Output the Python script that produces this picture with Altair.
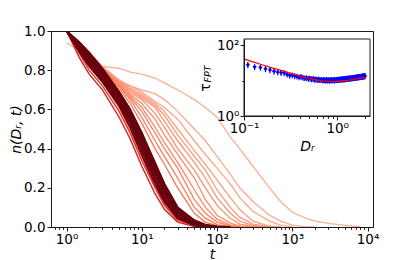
import altair as alt
import pandas as pd

# ---------------- main panel: n(D_r, t) curves ----------------
T_GRID = [1, 1.5, 2, 3, 5, 7, 10, 15, 20, 30, 50, 70, 100, 150, 200, 300,
          500, 700, 1000, 1500, 2000, 3000, 5000, 8000]

# slow (light) curves, lightest first
LIGHT_CURVES = [
    [0.94, 0.90, 0.86, 0.82, 0.81, 0.79, 0.78, 0.76, 0.735, 0.70, 0.65, 0.61, 0.56, 0.46, 0.40, 0.31, 0.20, 0.13, 0.075, 0.045, 0.03, 0.018, 0.008, 0.002],
    [1.0, 0.94, 0.89, 0.82, 0.75, 0.72, 0.70, 0.68, 0.65, 0.59, 0.50, 0.44, 0.36, 0.27, 0.20, 0.13, 0.06, 0.03, 0.01, 0.002, 0.0],
    [1.0, 0.94, 0.89, 0.81, 0.74, 0.72, 0.69, 0.64, 0.61, 0.55, 0.44, 0.37, 0.30, 0.22, 0.15, 0.08, 0.03, 0.01, 0.0],
    [1.0, 0.94, 0.89, 0.81, 0.75, 0.71, 0.68, 0.63, 0.59, 0.50, 0.39, 0.32, 0.24, 0.15, 0.09, 0.03, 0.005, 0.0],
    [1.0, 0.94, 0.89, 0.81, 0.74, 0.70, 0.67, 0.62, 0.57, 0.47, 0.36, 0.29, 0.19, 0.10, 0.05, 0.015, 0.002, 0.0],
    [1.0, 0.94, 0.89, 0.81, 0.74, 0.70, 0.66, 0.61, 0.54, 0.44, 0.33, 0.25, 0.15, 0.07, 0.03, 0.008, 0.0],
    [1.0, 0.94, 0.89, 0.81, 0.74, 0.69, 0.65, 0.58, 0.51, 0.40, 0.29, 0.20, 0.11, 0.045, 0.015, 0.003, 0.0],
    [1.0, 0.94, 0.89, 0.81, 0.73, 0.68, 0.63, 0.55, 0.47, 0.37, 0.25, 0.14, 0.06, 0.02, 0.006, 0.0],
    [1.0, 0.94, 0.89, 0.81, 0.73, 0.67, 0.61, 0.51, 0.43, 0.33, 0.19, 0.10, 0.04, 0.01, 0.002, 0.0],
    [1.0, 0.94, 0.89, 0.80, 0.72, 0.66, 0.59, 0.48, 0.40, 0.30, 0.14, 0.07, 0.025, 0.006, 0.0],
    [1.0, 0.94, 0.89, 0.80, 0.72, 0.65, 0.56, 0.44, 0.36, 0.25, 0.10, 0.045, 0.012, 0.002, 0.0],
    [1.0, 0.94, 0.88, 0.79, 0.71, 0.63, 0.53, 0.40, 0.32, 0.20, 0.07, 0.025, 0.006, 0.0],
]

# fastest (bright red) curves on the lower edge of the bundle
RED_CURVES = [
    [1.0, 0.89, 0.82, 0.74, 0.61, 0.50, 0.36, 0.21, 0.12, 0.04, 0.008, 0.002, 0.0],
    [1.0, 0.88, 0.80, 0.72, 0.59, 0.48, 0.34, 0.20, 0.11, 0.035, 0.006, 0.001, 0.0],
    [1.0, 0.86, 0.78, 0.70, 0.56, 0.45, 0.31, 0.17, 0.09, 0.025, 0.003, 0.0],
]

# dense dark bundle
DARK_CURVES = [
    [1.0, 0.94, 0.89, 0.81, 0.69, 0.60, 0.48, 0.33, 0.22, 0.10, 0.035, 0.012, 0.003, 0.0],
    [1.0, 0.94, 0.88, 0.80, 0.69, 0.60, 0.48, 0.32, 0.22, 0.10, 0.03, 0.01, 0.002, 0.0],
    [1.0, 0.93, 0.88, 0.80, 0.68, 0.59, 0.47, 0.31, 0.21, 0.09, 0.025, 0.008, 0.001, 0.0],
    [1.0, 0.93, 0.87, 0.79, 0.67, 0.58, 0.46, 0.30, 0.20, 0.085, 0.022, 0.007, 0.0],
    [1.0, 0.92, 0.87, 0.79, 0.67, 0.57, 0.45, 0.29, 0.19, 0.08, 0.02, 0.006, 0.0],
    [1.0, 0.92, 0.86, 0.78, 0.66, 0.56, 0.43, 0.28, 0.18, 0.07, 0.016, 0.005, 0.0],
    [1.0, 0.91, 0.85, 0.77, 0.65, 0.55, 0.42, 0.27, 0.17, 0.065, 0.014, 0.004, 0.0],
    [1.0, 0.91, 0.84, 0.76, 0.64, 0.54, 0.41, 0.25, 0.155, 0.055, 0.012, 0.003, 0.0],
    [1.0, 0.90, 0.83, 0.75, 0.63, 0.53, 0.39, 0.24, 0.14, 0.05, 0.01, 0.002, 0.0],
    [1.0, 0.89, 0.82, 0.74, 0.62, 0.51, 0.37, 0.22, 0.13, 0.045, 0.008, 0.001, 0.0],
]

T_DOMAIN = [0.622, 11830]
N_DOMAIN = [0.0, 1.0]

# ---------------- inset: tau_FPT vs D_r ----------------
DR_POINTS = [round(0.11 + 0.02 * k, 2) for k in range(95)]
TAU_POINTS = [
    28.0, 24.5, 23.5, 21.5, 20.0, 18.5, 17.5, 16.8, 16.5, 15.0,
    14.0, 14.3, 13.5, 13.2, 12.6, 12.9, 12.2, 11.8, 12.0, 11.4,
    11.6, 11.1, 11.3, 10.8, 11.0, 10.6, 10.9, 10.5, 10.7, 10.3,
    10.6, 10.4, 10.2, 10.6, 10.3, 10.5, 10.1, 10.4, 10.6, 10.2,
    10.5, 10.3, 10.7, 10.4, 10.6, 10.8, 10.5, 10.9, 10.7, 11.0,
    10.8, 11.1, 10.9, 11.2, 11.0, 11.3, 11.1, 11.5, 11.2, 11.6,
    11.4, 11.7, 11.5, 11.8, 11.6, 12.0, 11.7, 12.1, 11.9, 12.2,
    12.0, 12.3, 12.1, 12.4, 12.2, 12.6, 12.3, 12.7, 12.5, 12.8,
    12.6, 12.9, 12.7, 13.0, 12.8, 13.2, 12.9, 13.3, 13.1, 13.4,
    13.2, 13.6, 13.3, 13.7, 13.5,
]
TAU_REL_ERR = 0.19
DR_THEORY = [0.1, 0.12, 0.15, 0.2, 0.25, 0.3, 0.4, 0.5, 0.6, 0.7, 0.8, 0.9, 1.0, 1.2, 1.5, 1.8, 2.0, 2.05]
TAU_THEORY = [41, 35, 29, 23, 19.5, 16.8, 13.2, 11.4, 10.4, 9.8, 9.5, 9.4, 9.5, 9.9, 10.8, 11.7, 12.2, 12.4]
DR_DOMAIN = [0.1, 2.25]
TAU_DOMAIN = [1, 150]

FONT = "DejaVu Sans"
W, H = 322, 196


def curves_frame(curves, start):
    rows = []
    for i, c in enumerate(curves):
        for t, n in zip(T_GRID, c):
            rows.append({"k": start + i, "t": t, "n": n})
    return pd.DataFrame(rows)


df_light = curves_frame(LIGHT_CURVES, 0)
df_red = curves_frame(RED_CURVES, 12)
df_dark = curves_frame(DARK_CURVES, 15)

major_t = "datum.value==1||datum.value==10||datum.value==100||datum.value==1000||datum.value==10000"
t_ticks = [0.7, 0.8, 0.9] + [m * 10 ** e for e in range(4) for m in range(1, 10)] + [10000]
x_main = alt.X(
    "t:Q",
    scale=alt.Scale(type="log", domain=T_DOMAIN, nice=False),
    axis=alt.Axis(
        values=t_ticks, title="t", titleFontStyle="italic", titleFontWeight="normal",
        titleFontSize=14, titleY=31, titleBaseline="alphabetic",
        labelExpr="datum.value==1?'10⁰':datum.value==10?'10¹':datum.value==100?'10²':datum.value==1000?'10³':datum.value==10000?'10⁴':''",
        tickSize={"condition": {"test": major_t, "value": 4}, "value": 2.3},
        labelPadding=1, labelOverlap=False, labelFlush=False, grid=False, zindex=1,
    ),
)
y_main = alt.Y(
    "n:Q",
    scale=alt.Scale(domain=N_DOMAIN, nice=False),
    axis=alt.Axis(
        values=[0, 0.2, 0.4, 0.6, 0.8, 1.0], format=".1f", title="n(Dᵣ, t)",
        titleFontStyle="italic", titleFontWeight="normal", titleFontSize=14,
        titleAngle=270, titleX=-35, titleY=98, titleAlign="center", titleBaseline="middle",
        tickSize=4, labelPadding=2, grid=False, zindex=1, labelFlush=False,
    ),
)
color_scale = alt.Scale(
    domain=[0, 2, 11, 12, 14, 15, 24],
    range=["#fcb094", "#fca487", "#fb7656", "#f0402e", "#d21f20", "#67000d", "#67000d"],
)


def curve_layer(df, width):
    return alt.Chart(df).mark_line(strokeWidth=width, clip=True).encode(
        x=x_main, y=y_main,
        color=alt.Color("k:Q", scale=color_scale, legend=None),
        detail="k:N",
    )


main = alt.layer(
    curve_layer(df_light, 1.3),
    curve_layer(df_red, 1.4),
    curve_layer(df_dark, 1.8),
)

# ---------------- inset layers ----------------
df_pts = pd.DataFrame({"dr": DR_POINTS, "tau": TAU_POINTS})
df_pts["lo"] = df_pts["tau"] * (1 - TAU_REL_ERR)
df_pts["hi"] = df_pts["tau"] * (1 + TAU_REL_ERR)
df_th = pd.DataFrame({"dr": DR_THEORY, "tau": TAU_THEORY})
df_box = pd.DataFrame({"dr": [DR_DOMAIN[0]], "dr2": [DR_DOMAIN[1]],
                       "tau": [TAU_DOMAIN[0]], "tau2": [TAU_DOMAIN[1]]})

inset_x_scale = alt.Scale(type="log", domain=DR_DOMAIN, range=[193, 319], nice=False)
inset_y_scale = alt.Scale(type="log", domain=TAU_DOMAIN, range=[85, 8], nice=False)
inset_x_axis = alt.Axis(
    orient="bottom", offset=-111,
    values=[0.1, 0.2, 0.3, 0.4, 0.5, 0.6, 0.7, 0.8, 0.9, 1, 2],
    labelExpr="datum.value==0.1?'10⁻¹':datum.value==1?'10⁰':''",
    tickSize={"condition": {"test": "datum.value==0.1||datum.value==1", "value": 4}, "value": 2.3},
    title="Dᵣ", titleFontStyle="italic", titleFontWeight="normal", titleFontSize=14,
    titleY=34, titleBaseline="alphabetic",
    labelPadding=1, labelOverlap=False, labelFlush=False, grid=False, zindex=2,
)
inset_y_axis = alt.Axis(
    orient="left", offset=-193,
    values=[1, 10, 100],
    labelExpr="datum.value==1?'10⁰':datum.value==100?'10²':''",
    tickSize={"condition": {"test": "datum.value==1||datum.value==100", "value": 4}, "value": 2.3},
    title="τ", titleFontWeight="normal", titleFontSize=14, titleAngle=270,
    titleX=-39, titleY=56, titleAlign="center", titleBaseline="middle",
    labelPadding=1, labelOverlap=False, labelFlush=False, grid=False, zindex=2,
)
ix = alt.X("dr:Q", scale=inset_x_scale, axis=inset_x_axis)
iy = alt.Y("tau:Q", scale=inset_y_scale, axis=inset_y_axis)

box = alt.Chart(df_box).mark_rect(fill="white", stroke="#1a1a1a", strokeWidth=1).encode(
    x=ix, x2="dr2:Q", y=iy, y2="tau2:Q")
errs = alt.Chart(df_pts).mark_rule(color="blue", strokeWidth=1.2).encode(
    x=ix, y=alt.Y("lo:Q", scale=inset_y_scale, axis=inset_y_axis), y2="hi:Q")
pts = alt.Chart(df_pts).mark_point(shape="diamond", filled=True, color="blue", size=18, opacity=1).encode(
    x=ix, y=iy)
theory = alt.Chart(df_th).mark_line(color="red", strokeWidth=1.3).encode(x=ix, y=iy)

inset = alt.layer(box, errs, pts, theory)

sub = alt.Chart(pd.DataFrame({"s": ["FPT"]})).mark_text(
    font=FONT, fontSize=9.5, fontStyle="italic", angle=270, align="center", baseline="middle", color="black"
).encode(x=alt.value(156.5), y=alt.value(43), text="s:N")

chart = alt.layer(main, inset, sub).resolve_scale(
    x="independent", y="independent", color="independent"
).properties(
    width=W, height=H,
    background="white",
    autosize=alt.AutoSizeParams(type="none"),
    padding={"left": 43, "top": 23, "right": 30, "bottom": 45},
).configure_view(
    stroke="#1a1a1a", strokeWidth=1
).configure_axis(
    labelFont=FONT, titleFont=FONT, labelFontSize=13.5, labelColor="black", titleColor="black",
    domainColor="#1a1a1a", tickColor="#1a1a1a", domainWidth=1, tickWidth=1,
)

chart.save("out.html", embed_options={"renderer": "svg", "actions": False})
